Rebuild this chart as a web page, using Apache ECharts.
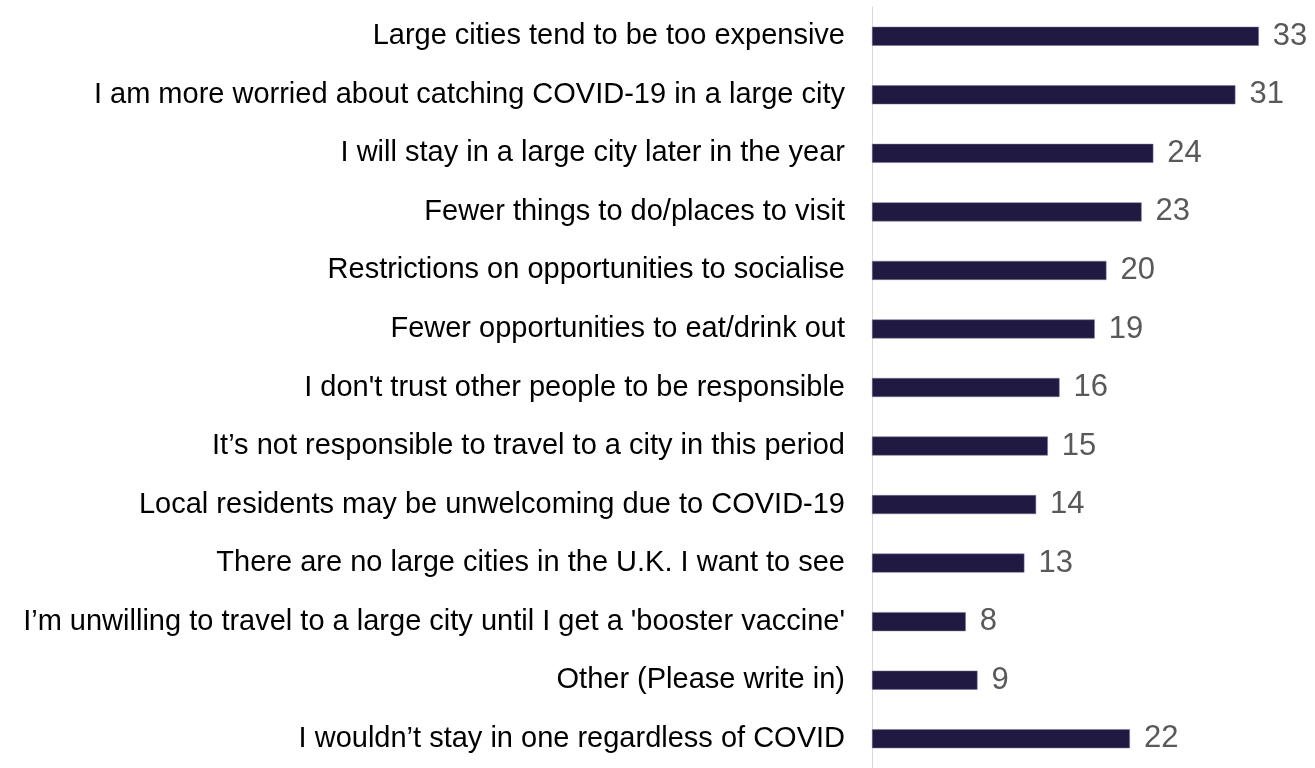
<!DOCTYPE html>
<html>
<head>
<meta charset="utf-8">
<script src="https://cdn.jsdelivr.net/npm/echarts@6/dist/echarts.min.js"></script>
<style>
  html, body { margin: 0; padding: 0; background: #fff; }
  #chart { width: 1315px; height: 768px; }
</style>
</head>
<body>
<div id="chart"></div>
<script>
// reasons, top to bottom as in the picture
const categories = [
    'Large cities tend to be too expensive',
    'I am more worried about catching COVID-19 in a large city',
    'I will stay in a large city later in the year',
    'Fewer things to do/places to visit',
    'Restrictions on opportunities to socialise',
    'Fewer opportunities to eat/drink out',
    "I don't trust other people to be responsible",
    'It\u2019s not responsible to travel to a city in this period',
    'Local residents may be unwelcoming due to COVID-19',
    'There are no large cities in the U.K. I want to see',
    'I\u2019m unwilling to travel to a large city until I get a \'booster vaccine\'',
    'Other (Please write in)',
    'I wouldn\u2019t stay in one regardless of COVID'
]
const values = [33, 31, 24, 23, 20, 19, 16, 15, 14, 13, 8, 9, 22]

const chart = echarts.init(document.getElementById('chart'))

chart.setOption({
    animation: false,
    grid: {
        left: 872,
        top: 7,
        width: 422,
        height: 767
    },
    xAxis: {
        type: 'value',
        min: 0,
        max: 36,
        show: false
    },
    yAxis: {
        type: 'category',
        inverse: true,
        data: categories,
        axisLine: { show: true, lineStyle: { color: '#d9d9d9', width: 1 } },
        axisTick: { show: false },
        axisLabel: {
            margin: 27,
            color: '#000000',
            fontSize: 29,
            fontFamily: 'Liberation Sans, Arial, sans-serif'
        }
    },
    series: [
        {
            type: 'bar',
            data: values,
            barWidth: 19,
            itemStyle: { color: '#201942', borderColor: '#7a7496', borderWidth: 0.5 },
            label: {
                show: true,
                position: 'right',
                distance: 14,
                color: '#595959',
                fontSize: 31,
                fontFamily: 'Liberation Sans, Arial, sans-serif'
            }
        }
    ]
})
</script>
</body>
</html>
